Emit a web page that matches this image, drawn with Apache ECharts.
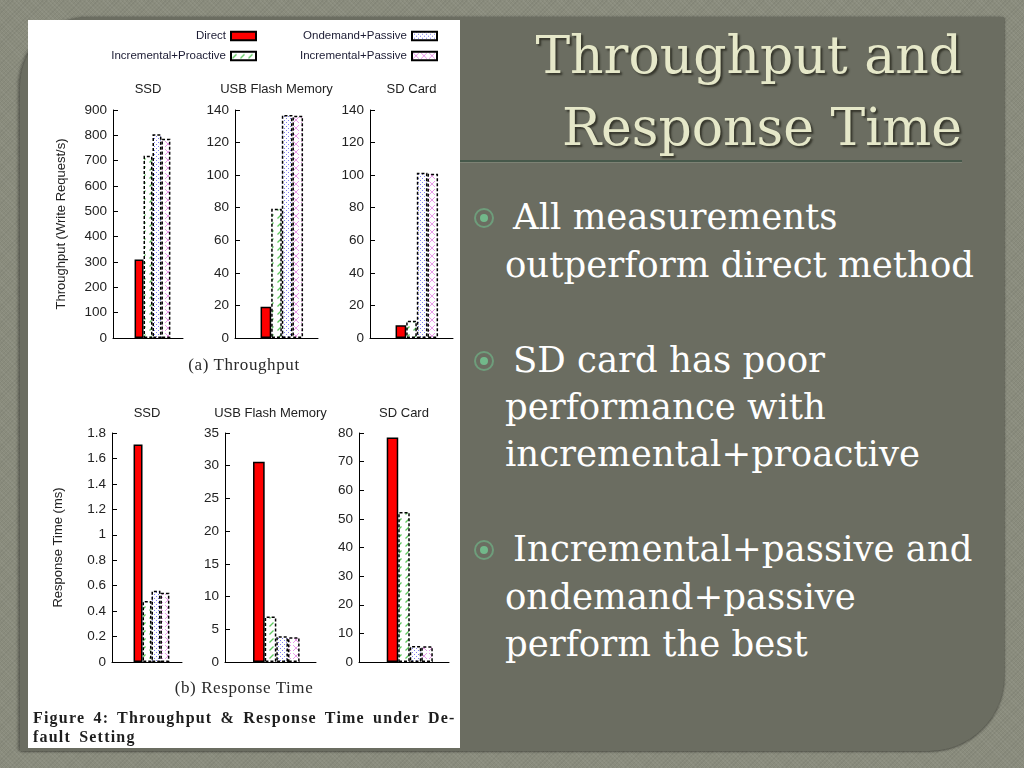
<!DOCTYPE html>
<html>
<head>
<meta charset="utf-8">
<script src="https://cdn.jsdelivr.net/npm/echarts@6/dist/echarts.min.js"></script>
<style>
html,body{margin:0;padding:0;}
body{width:1024px;height:768px;overflow:hidden;position:relative;background-color:#8a8c7d;
 background-image:repeating-linear-gradient(45deg,rgba(255,255,255,0.05) 0 1px,transparent 1px 3px),repeating-linear-gradient(-45deg,rgba(0,0,0,0.05) 0 1px,transparent 1px 3px);}
#panel{position:absolute;left:20px;top:17px;width:984px;height:734px;background:#6b6d61;border-radius:70px 0 75px 0;box-shadow:-2px 0 3px rgba(0,0,0,0.35),1px 1px 2px rgba(0,0,0,0.3);}
#rule{position:absolute;left:460px;top:160px;width:502px;height:2px;background:#46584a;border-bottom:1px solid #7d8274;}
#title{position:absolute;right:62px;top:19px;text-align:right;font-family:'DejaVu Serif';font-size:52px;line-height:72px;color:#e6e8c9;text-shadow:2px 2px 2px rgba(30,30,20,0.7);white-space:nowrap;}
#bullets{position:absolute;left:505px;top:193.4px;font-family:'DejaVu Serif';font-size:35.5px;line-height:47.4px;color:#fff;white-space:nowrap;}
#bullets div{height:47.4px;}
.first{padding-left:8px;}
.dot{position:absolute;left:474px;width:16px;height:16px;border:2px solid #6e9d7b;border-radius:50%;}
.dot::after{content:'';position:absolute;left:4px;top:4px;width:8px;height:8px;border-radius:50%;background:#72b88a;}
#chart{position:absolute;left:28px;top:20px;width:432px;height:728px;background:#fff;}
.cap{position:absolute;font-family:'Liberation Serif';color:#2a2a2a;white-space:nowrap;}
.sub{left:28px;width:432px;text-align:center;font-size:17px;line-height:20px;letter-spacing:0.6px;}
#figcap{left:33px;top:708px;font-size:16px;line-height:19px;font-weight:bold;letter-spacing:1.2px;word-spacing:3px;color:#1e1e1e;}
</style>
</head>
<body>
<div id="panel"></div>
<div id="title">Throughput and<br>Response Time</div>
<div id="rule"></div>
<div class="dot" style="top:208px"></div>
<div class="dot" style="top:351px"></div>
<div class="dot" style="top:540px"></div>
<div id="bullets">
<div class="first">All measurements</div>
<div>outperform direct method</div>
<div></div>
<div class="first">SD card has poor</div>
<div>performance with</div>
<div>incremental+proactive</div>
<div></div>
<div class="first">Incremental+passive and</div>
<div>ondemand+passive</div>
<div>perform the best</div>
</div>
<div id="chart"></div>
<div class="cap sub" style="top:355px">(a) Throughput</div>
<div class="cap sub" style="top:678px">(b) Response Time</div>
<div class="cap" id="figcap">Figure 4: Throughput &amp; Response Time under De-<br>fault Setting</div>
<script>
// ---- data ----
const categories = ['SSD', 'USB Flash Memory', 'SD Card'];
const methods = ['Direct', 'Incremental+Proactive', 'Ondemand+Passive', 'Incremental+Passive'];
const throughputDirect = [310, 19.2, 7.8];
const throughputIncrementalProactive = [719, 79.3, 10.6];
const throughputOndemandPassive = [804, 137, 101.4];
const throughputIncrementalPassive = [787, 136.5, 100.8];
const responseDirect = [1.71, 30.6, 78.4];
const responseIncrementalProactive = [0.48, 6.95, 52.4];
const responseOndemandPassive = [0.56, 3.95, 5.6];
const responseIncrementalPassive = [0.545, 3.8, 5.5];
const throughputAxisMax = [900, 140, 140];
const throughputAxisStep = [100, 20, 20];
const responseAxisMax = [1.8, 35, 80];
const responseAxisStep = [0.2, 5, 10];
const throughputAxisName = 'Throughput (Write Request/s)';
const responseAxisName = 'Response Time (ms)';

// ---- patterns ----
function tile(size, draw) {
  const c = document.createElement('canvas');
  c.width = size; c.height = size;
  const g = c.getContext('2d');
  g.fillStyle = '#ffffff'; g.fillRect(0, 0, size, size);
  draw(g, size);
  return c;
}
const greenTile = tile(8, g => {
  g.strokeStyle = '#5ec85e'; g.lineWidth = 1.2;
  g.beginPath(); g.moveTo(1.5, 6.5); g.lineTo(5.5, 2.5); g.stroke();
});
const blueTile = tile(4, g => {
  g.fillStyle = '#7e7ef0';
  g.fillRect(0, 0, 1, 1); g.fillRect(2, 2, 1, 1);
});
const pinkTile = tile(8, g => {
  g.strokeStyle = '#e690e6'; g.lineWidth = 0.9;
  g.beginPath(); g.moveTo(1, 1); g.lineTo(7, 7); g.moveTo(7, 1); g.lineTo(1, 7); g.stroke();
});
const methodStyles = [
  { color: '#ff0000', borderColor: '#000', borderWidth: 1.5, borderType: 'solid' },
  { color: { image: greenTile, repeat: 'repeat' }, borderColor: '#000', borderWidth: 1.5, borderType: [3, 2] },
  { color: { image: blueTile, repeat: 'repeat' }, borderColor: '#000', borderWidth: 1.5, borderType: [3, 2] },
  { color: { image: pinkTile, repeat: 'repeat' }, borderColor: '#000', borderWidth: 1.5, borderType: [3, 2] }
];

// ---- layout ----
const gridBoxes = [
  { left: 85, top: 90, width: 70, height: 228 },
  { left: 207, top: 90, width: 83, height: 228 },
  { left: 342, top: 90, width: 83, height: 228 },
  { left: 84, top: 413, width: 70, height: 229 },
  { left: 197, top: 413, width: 91, height: 229 },
  { left: 331, top: 413, width: 90, height: 229 }
];
const throughputSeries = [throughputDirect, throughputIncrementalProactive, throughputOndemandPassive, throughputIncrementalPassive];
const responseSeries = [responseDirect, responseIncrementalProactive, responseOndemandPassive, responseIncrementalPassive];

const grid = [], xAxis = [], yAxis = [], series = [], graphic = [];
const font = 'Liberation Sans, Arial, sans-serif';
gridBoxes.forEach((b, p) => {
  const row = p < 3 ? 0 : 1, col = p % 3;
  grid.push(Object.assign({ containLabel: false }, b));
  xAxis.push({
    gridIndex: p, type: 'category', data: [categories[col]],
    axisLine: { show: true, lineStyle: { color: '#000', width: 1 } },
    axisTick: { show: false }, axisLabel: { show: false }, splitLine: { show: false }
  });
  const max = row === 0 ? throughputAxisMax[col] : responseAxisMax[col];
  const step = row === 0 ? throughputAxisStep[col] : responseAxisStep[col];
  yAxis.push({
    gridIndex: p, type: 'value', min: 0, max: max, interval: step,
    name: col === 0 ? (row === 0 ? throughputAxisName : responseAxisName) : '',
    nameLocation: 'middle', nameRotate: 90, nameGap: row === 0 ? 45 : 47,
    nameTextStyle: { fontSize: 13, color: '#222', fontFamily: font },
    axisLine: { show: true, lineStyle: { color: '#000', width: 1 } },
    axisTick: { show: true, inside: true, length: 5, lineStyle: { color: '#000' } },
    axisLabel: { fontSize: 13.5, color: '#222', fontFamily: font, margin: 6 },
    splitLine: { show: false }
  });
  // spacer slot (empty) before the cluster, as in the original histogram
  series.push({ type: 'bar', name: '', xAxisIndex: p, yAxisIndex: p, data: [null], barWidth: '12.8%', barGap: '0%', silent: true });
  const src = row === 0 ? throughputSeries : responseSeries;
  methods.forEach((m, k) => {
    series.push({
      type: 'bar', name: m, xAxisIndex: p, yAxisIndex: p,
      data: [src[k][col]], barWidth: '12.8%', barGap: '0%',
      itemStyle: methodStyles[k], silent: true
    });
  });
  graphic.push({
    type: 'text', x: b.left + b.width / 2, y: row === 0 ? 69.5 : 393,
    style: { text: categories[col], fill: '#222', font: '13px ' + font, align: 'center', verticalAlign: 'middle' }
  });
});

const legendCommon = {
  orient: 'vertical', align: 'right', top: 10, padding: 0,
  itemWidth: 25, itemHeight: 8.5, itemGap: 8, icon: 'rect', selectedMode: false,
  textStyle: { fontSize: 11.5, color: '#1b1b33', fontFamily: font }
};
const chart = echarts.init(document.getElementById('chart'), null, { renderer: 'canvas' });
chart.setOption({
  animation: false,
  backgroundColor: '#ffffff',
  legend: [
    Object.assign({ data: [methods[0], methods[1]], right: 203 }, legendCommon),
    Object.assign({ data: [methods[2], methods[3]], right: 22 }, legendCommon)
  ],
  grid: grid, xAxis: xAxis, yAxis: yAxis, series: series, graphic: graphic
});
</script>
</body>
</html>
